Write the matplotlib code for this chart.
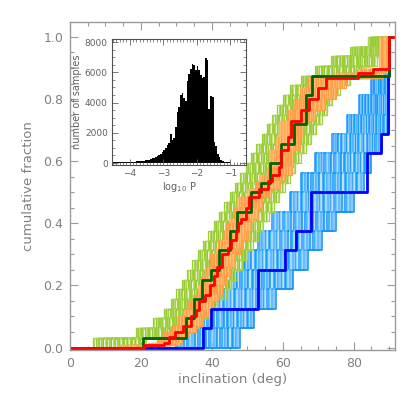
import numpy as np
import matplotlib
matplotlib.use('Agg')
import matplotlib.pyplot as plt
from matplotlib.ticker import MultipleLocator, FormatStrFormatter

# ---------------- data ----------------
# thick reference distributions (inclinations, deg)
dkgreen_incl = [20.7, 32.6, 32.6, 35.0, 35.0, 37.3, 37.3, 39.7, 42.0, 42.0, 45.0, 45.0,
                47.2, 47.2, 51.0, 51.0, 53.8, 56.5, 56.5, 59.5, 59.5, 63.1, 63.1, 66.6,
                66.6, 66.6, 68.3, 68.3, 90.0, 90.0, 90.0, 90.0]
blue_incl = [37.5, 39.7, 52.9, 52.9, 60.6, 63.7, 68.0, 68.0, 83.8, 83.8, 87.6, 89.8,
             89.8, 89.8, 90.0, 90.0]
# red cumulative curve: step positions and levels
red_x = [20.8, 26.4, 28.0, 29.7, 32.0, 34.0, 35.5, 36.5, 38.2, 39.5, 40.5, 41.5, 43.0,
         44.5, 45.3, 46.7, 47.5, 48.2, 49.5, 50.5, 53.3, 55.7, 57.0, 59.0, 59.5, 61.4,
         62.3, 65.2, 67.5, 69.9, 72.2, 81.2, 85.4, 90.0]
red_y = [0.008, 0.016, 0.035, 0.05, 0.07, 0.10, 0.12, 0.15, 0.17, 0.20, 0.23, 0.26, 0.30,
         0.32, 0.345, 0.375, 0.40, 0.415, 0.45, 0.485, 0.51, 0.537, 0.555, 0.58, 0.635,
         0.678, 0.73, 0.765, 0.80, 0.835, 0.867, 0.883, 0.896, 1.0]
orange_hw = [7.0, 4.5, 3.5, 3.5, 3.5, 3.5, 3.5, 3.5, 3.5, 3.5, 3.5, 3.5, 3.5,
             3.5, 3.5, 3.5, 3.5, 3.5, 3.5, 3.5, 3.5, 3.5, 3.5, 3.5, 3.5, 3.5,
             3.5, 4.0, 4.5, 5.0, 5.5, 7.0, 4.5, 3.0]
# ensembles: rank-wise centre and half-width of the thin curves
green_mid = [14.0, 25.0, 30.0, 33.0, 35.0, 37.0, 38.5, 40.0, 41.5, 43.0, 44.5, 46.0,
             47.5, 49.0, 50.5, 52.0, 53.5, 55.0, 56.5, 58.0, 59.5, 61.0, 62.5, 64.0,
             65.5, 67.0, 69.0, 72.0, 76.0, 80.0, 84.0, 87.0]
green_hw = [7.5, 6.5, 6.5, 6.5, 6.5, 7.0, 7.0, 7.0, 7.0, 7.0, 7.0, 7.0,
            7.0, 7.0, 7.0, 7.0, 7.0, 7.0, 7.0, 7.0, 7.0, 7.0, 7.0, 7.0,
            7.0, 7.0, 7.0, 7.0, 7.0, 6.5, 5.0, 3.0]
blue_mid = [39.0, 44.0, 49.0, 54.0, 58.0, 62.0, 66.0, 71.0, 74.0, 77.0, 81.0, 84.0,
            86.5, 88.0, 89.5, 90.0]
blue_hw = [9.0, 8.0, 9.0, 9.0, 9.0, 9.0, 9.0, 9.0, 9.0, 8.0, 7.0, 6.0, 5.0, 3.0, 1.0, 0.0]
fracs = [-1.0, -0.95, -0.9, -0.86, -0.81, -0.76, -0.71, -0.66, -0.61, -0.56, -0.51,
         -0.46, -0.41, -0.36, -0.31, -0.26, -0.21, -0.16, -0.11, -0.06, -0.01,
         0.03, 0.08, 0.13, 0.18, 0.23, 0.28, 0.33, 0.38, 0.43, 0.48, 0.53, 0.58,
         0.63, 0.68, 0.73, 0.78, 0.83, 0.88, 0.94, 1.0]

# inset histogram of log10 P (bins of 0.05 from -4.5 to -0.5)
hist_counts = [40, 45, 50, 55, 55, 60, 65, 70, 75, 80,
               85, 90, 95, 100, 110, 120, 130, 145, 160, 180,
               200, 230, 260, 300, 340, 400, 450, 520, 600, 700,
               850, 1000, 1200, 1300, 1900, 1550, 1650, 2350, 3400, 3700,
               4500, 4600, 4300, 4100, 5400, 5900, 6200, 6550, 6450, 6150,
               6400, 6150, 5800, 5600, 5700, 6950, 6800, 3600, 4450, 4350,
               1400, 1150, 620, 400, 180, 110, 80, 60, 50, 40,
               30, 20, 15, 10, 5, 0, 0, 0, 0, 0]
hist_lo, hist_w = -4.5, 0.05

XMAX = 91.5
green_cols = ['#9ACD32', '#B0D860', '#8EC63A', '#C2E084', '#A4D23E', '#9ACD32']
orange_cols = ['#FFA040', '#FFB464', '#FA9A48', '#FFC07A', '#FFA850']
blue_cols = ['#1E90FF', '#00A0FF', '#87CEFA', '#3AA8FF', '#63B8FF', '#0A8CF0', '#A8DCFF']


def ecdf_xy(vals):
    v = sorted(vals)
    n = len(v)
    xs = [0.0] + list(v) + [XMAX]
    ys = [0.0] + [(i + 1) / n for i in range(n)] + [1.0]
    return xs, ys


fig = plt.figure(figsize=(4.15, 3.95), dpi=100)
ax = fig.add_axes([70 / 415, 1 - 350 / 395, 324.5 / 415, 328 / 395])

# thin ensembles
for k, f in enumerate(fracs):
    vals = np.clip(np.array(blue_mid) + np.array(blue_hw) * f, 0, 90)
    xs, ys = ecdf_xy(vals)
    ax.step(xs, ys, where='post', color=blue_cols[k % len(blue_cols)], lw=1.1)
for k, f in enumerate(fracs):
    vals = np.clip(np.array(green_mid) + np.array(green_hw) * f, 0, 90)
    xs, ys = ecdf_xy(vals)
    ax.step(xs, ys, where='post', color=green_cols[k % len(green_cols)], lw=0.9)
for k, f in enumerate(fracs):
    vals = np.clip(np.array(red_x) + np.array(orange_hw) * f, 0, 90)
    vals = np.maximum.accumulate(vals)
    xs = [0.0] + list(vals) + [XMAX]
    ys = [0.0] + list(red_y) + [1.0]
    ax.step(xs, ys, where='post', color=orange_cols[k % len(orange_cols)], lw=0.8)

# thick curves
xs, ys = ecdf_xy(blue_incl)
ax.step(xs, ys, where='post', color='#0000FF', lw=2.0)
xs, ys = ecdf_xy(dkgreen_incl)
ax.step(xs, ys, where='post', color='#006400', lw=2.0)
ax.step([0.0] + red_x + [XMAX], [0.0] + red_y + [1.0], where='post', color='#FF0000', lw=2.0)

ax.set_xlim(0, XMAX)
ax.set_ylim(-0.008, 1.048)
ax.xaxis.set_major_locator(MultipleLocator(20))
ax.xaxis.set_minor_locator(MultipleLocator(5))
ax.yaxis.set_major_locator(MultipleLocator(0.2))
ax.yaxis.set_minor_locator(MultipleLocator(0.05))
ax.yaxis.set_major_formatter(FormatStrFormatter('%.1f'))
gray = '#808080'
for s in ax.spines.values():
    s.set_color('#9a9a9a')
    s.set_linewidth(1.0)
ax.tick_params(which='both', direction='in', top=True, right=True, color='#9a9a9a',
               labelcolor=gray, labelsize=9)
ax.tick_params(which='major', length=6, width=0.8, pad=5)
ax.tick_params(which='minor', length=3, width=0.8)
ax.set_xlabel('inclination (deg)', color=gray, fontsize=9.5, labelpad=2)
ax.set_ylabel('cumulative fraction', color=gray, fontsize=9.5, labelpad=6)

# inset
axi = fig.add_axes([112 / 415, 1 - 165 / 395, 134 / 415, 126 / 395])
edges = hist_lo + hist_w * np.arange(len(hist_counts))
axi.bar(edges, hist_counts, width=hist_w, align='edge', color='black', linewidth=0)
axi.set_xlim(-4.53, -0.53)
axi.set_ylim(-130, 8200)
axi.xaxis.set_major_locator(MultipleLocator(1))
axi.xaxis.set_minor_locator(MultipleLocator(0.1))
axi.yaxis.set_major_locator(MultipleLocator(2000))
axi.yaxis.set_minor_locator(MultipleLocator(500))
for s in axi.spines.values():
    s.set_color('#505050')
    s.set_linewidth(0.8)
axi.tick_params(which='both', direction='in', top=True, right=True, color='#606060',
                labelcolor='#606060', labelsize=6.5)
axi.tick_params(which='major', length=4, width=0.6, pad=3)
axi.tick_params(which='minor', length=2, width=0.5)
axi.set_xlabel('log$_{10}$ P', color='#606060', fontsize=7, labelpad=1)
axi.set_ylabel('number of samples', color='#606060', fontsize=7, labelpad=2)

fig.savefig('out.png', dpi=100)
